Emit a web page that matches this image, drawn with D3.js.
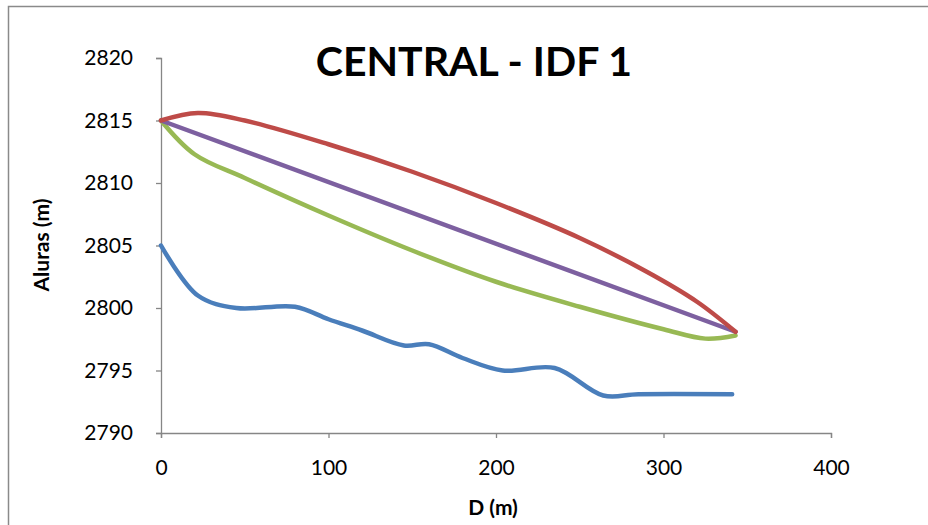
<!DOCTYPE html>
<html>
<head>
<meta charset="utf-8">
<script src="https://cdn.jsdelivr.net/npm/d3@7"></script>
<style>
  html, body { margin: 0; padding: 0; background: #fff; }
  svg { display: block; }
  text { font-family: Lato, "Open Sans", sans-serif; fill: #000; }
</style>
</head>
<body>
<svg id="chart" width="928" height="525"></svg>
<script>
// Profile distances (m) and elevations (m) for each series
const terrenoX = [0, 22, 45, 80, 100, 120, 145, 160, 180, 204, 235, 264, 285, 341];
const terrenoY = [2805, 2801.0, 2800, 2800.1, 2799.1, 2798.2, 2797, 2797.1, 2796, 2795, 2795.2, 2793, 2793.1, 2793.1];

const rojaX = [0, 22, 50, 100, 150, 200, 250, 290, 320, 343];
const rojaY = [2815, 2815.6, 2815.0, 2813.1, 2810.9, 2808.4, 2805.6, 2802.9, 2800.5, 2798.1];

const verdeX = [0, 20, 50, 100, 150, 200, 250, 300, 325, 343];
const verdeY = [2815, 2812.3, 2810.4, 2807.4, 2804.6, 2802.1, 2800.1, 2798.3, 2797.55, 2797.8];

const moradaX = [0, 343];
const moradaY = [2815, 2798.1];

const xTicks = [0, 100, 200, 300, 400];
const yTicks = [2790, 2795, 2800, 2805, 2810, 2815, 2820];

const titulo = "CENTRAL - IDF 1";
const tituloX = "D (m)";
const tituloY = "Aluras (m)";

const series = [
  { xs: terrenoX, ys: terrenoY, color: "#4A7EBB" },
  { xs: verdeX, ys: verdeY, color: "#98B954" },
  { xs: moradaX, ys: moradaY, color: "#7D60A0" },
  { xs: rojaX, ys: rojaY, color: "#BE4B48" }
];

const svg = d3.select("#chart");

// Outer chart frame
svg.append("rect")
  .attr("x", 8.5).attr("y", 6.5)
  .attr("width", 940).attr("height", 540)
  .attr("fill", "#fff")
  .attr("stroke", "#8a8a8a").attr("stroke-width", 1.5);

const x = d3.scaleLinear().domain([0, 400]).range([161, 831]);
const y = d3.scaleLinear().domain([2790, 2820]).range([433, 58]);

// X axis
const gx = svg.append("g")
  .attr("transform", `translate(0,${y(2790)})`)
  .call(d3.axisBottom(x).tickValues(xTicks).tickSize(5).tickPadding(22).tickFormat(d3.format("d")));
// Y axis
const gy = svg.append("g")
  .attr("transform", `translate(${x(0)},0)`)
  .call(d3.axisLeft(y).tickValues(yTicks).tickSize(5).tickPadding(23).tickFormat(d3.format("d")));

[gx, gy].forEach(g => {
  g.select(".domain").attr("stroke", "#868686").attr("stroke-width", 1.3);
  g.selectAll(".tick line").attr("stroke", "#868686").attr("stroke-width", 1.3);
  g.selectAll(".tick text").attr("font-size", 21).attr("fill", "#000")
    .style("font-family", "Lato, 'Open Sans', sans-serif");
});

// Series lines, smoothed
const line = d3.line()
  .x(d => x(d[0]))
  .y(d => y(d[1]))
  .curve(d3.curveCatmullRom.alpha(0.5));

series.forEach(s => {
  const pts = s.xs.map((v, i) => [v, s.ys[i]]);
  svg.append("path")
    .datum(pts)
    .attr("d", line)
    .attr("fill", "none")
    .attr("stroke", s.color)
    .attr("stroke-width", 4.5)
    .attr("stroke-linecap", "round")
    .attr("stroke-linejoin", "round");
});

// Titles
svg.append("text")
  .attr("x", 474).attr("y", 76)
  .attr("text-anchor", "middle")
  .attr("font-size", 41).attr("font-weight", "bold")
  .text(titulo);

svg.append("text")
  .attr("x", 493).attr("y", 515)
  .attr("text-anchor", "middle")
  .attr("font-size", 21).attr("font-weight", "bold")
  .text(tituloX);

svg.append("text")
  .attr("transform", "translate(49,245) rotate(-90)")
  .attr("text-anchor", "middle")
  .attr("font-size", 21).attr("font-weight", "bold")
  .text(tituloY);
</script>
</body>
</html>
